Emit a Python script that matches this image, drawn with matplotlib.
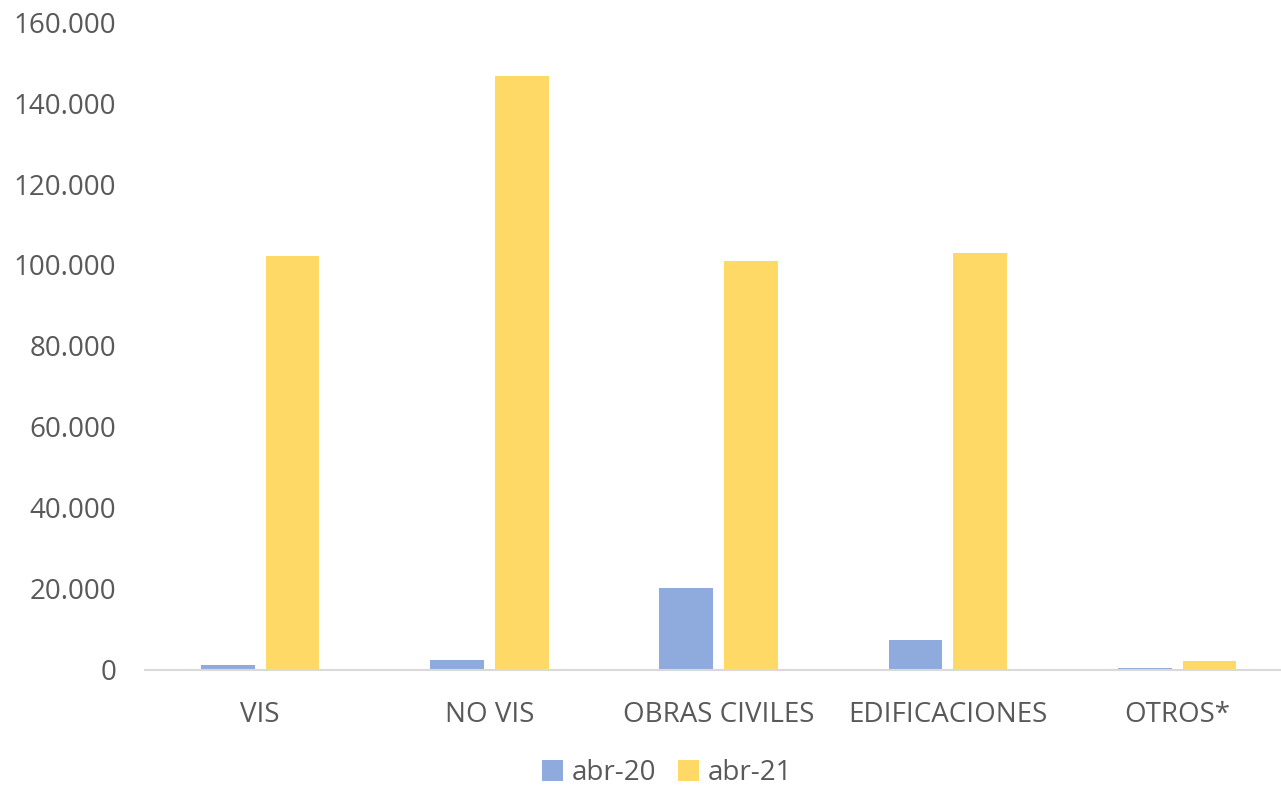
import numpy as np
import matplotlib.pyplot as plt

categories = ["VIS", "NO VIS", "OBRAS CIVILES", "EDIFICACIONES", "OTROS*"]
abr20 = [1350, 2500, 20200, 7300, 400]
abr21 = [102200, 146700, 101000, 102900, 2100]
yticks = [0, 20000, 40000, 60000, 80000, 100000, 120000, 140000, 160000]
ytick_labels = ["0", "20.000", "40.000", "60.000", "80.000", "100.000", "120.000", "140.000", "160.000"]

plt.rcParams['font.family'] = ['Open Sans', 'DejaVu Sans']
txt = '#595959'

fig = plt.figure(figsize=(12.81, 7.86), dpi=100)
ax = fig.add_axes([0.1135, 0.1476, 0.895, 0.8244])

x = np.arange(len(categories))
w = 0.234
ax.bar(x - 0.024 - w / 2, abr20, w, color='#8FAADC', label='abr-20')
ax.bar(x + 0.024 + w / 2, abr21, w, color='#FFD966', label='abr-21')

ax.set_xlim(-0.5, len(categories) - 0.5)
ax.set_ylim(0, 160000)
ax.set_yticks(yticks)
ax.set_yticklabels(ytick_labels)
ax.set_xticks(x)
ax.set_xticklabels(categories)
ax.tick_params(axis='both', length=0, labelsize=20, colors=txt)
ax.tick_params(axis='x', pad=22)
ax.tick_params(axis='y', pad=21)
for s in ['top', 'right', 'left']:
    ax.spines[s].set_visible(False)
ax.spines['bottom'].set_color('#D9D9D9')
ax.spines['bottom'].set_linewidth(1.5)

leg = ax.legend(loc='center', bbox_to_anchor=(0.455, -0.159), ncol=2, frameon=False,
                fontsize=20, handlelength=0.75, handleheight=0.75, handletextpad=0.3,
                columnspacing=0.8, labelcolor=txt)

fig.savefig('out.png', dpi=100)
